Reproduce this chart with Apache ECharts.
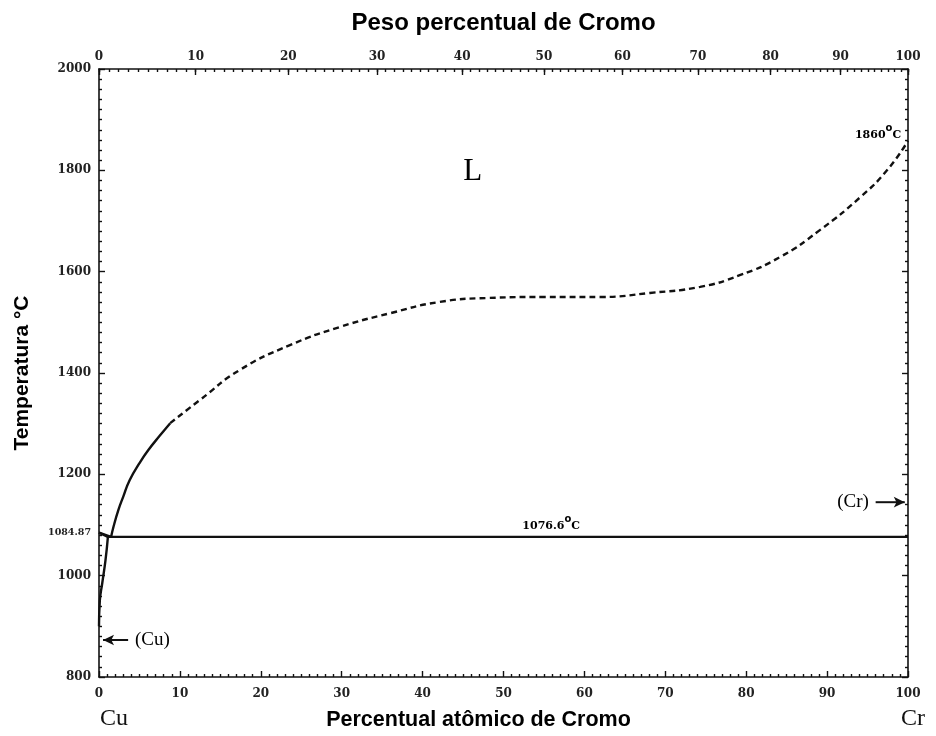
<!DOCTYPE html>
<html lang="pt">
<head>
    <meta charset="UTF-8">
    <title>Diagrama de fases Cu-Cr</title>
    <script src="https://cdn.jsdelivr.net/npm/echarts@6/dist/echarts.min.js"></script>
    <style>
        html, body {margin: 0; padding: 0; background: #fff;}
        #main {width: 936px; height: 736px;}
    </style>
</head>
<body>
<div id="main"></div>
<script type="text/javascript">
    // liquidus, parte cheia (at% Cr, °C)
    var liqSolid = [
        [1.5, 1076.6], [1.8, 1097], [2.4, 1130], [3.0, 1156], [3.8, 1189],
        [5.0, 1222], [6.1, 1248], [7.5, 1276], [8.8, 1301]
    ];
    // liquidus, parte tracejada
    var liqDashed = [
        [8.8, 1301], [12.5, 1347], [17.4, 1406], [23.6, 1455], [29.8, 1491],
        [36, 1518], [42, 1540], [48, 1548], [55, 1550], [61.9, 1550],
        [68.1, 1558], [74.3, 1570], [79.2, 1593], [84.2, 1629], [89.1, 1682],
        [94.1, 1747], [97.4, 1800], [100, 1858]
    ];
    var eutectic = [[1.1, 1076.6], [100, 1076.6]];
    var cuLiquidus = [[0, 1084.87], [1.5, 1076.6]];
    var cuSolidus = [[0, 1084.87], [1.1, 1076.6]];
    var cuSolvus = [[1.1, 1076.6], [0.8, 1030], [0.4, 985], [0.1, 950], [0, 900]];

    var topTicksWt = [0, 10, 20, 30, 40, 50, 60, 70, 80, 90, 100];
    var leftLabels = [800, 1000, 1084.87, 1200, 1400, 1600, 1800, 2000];

    var annotations = [
        {text: 'L', pos: [46.2, 1797], style: 'big'},
        {text: '1860{sup|o}C', pos: [96.3, 1876], style: 'small'},
        {text: '1076.6{sup|o}C', pos: [55.9, 1104], style: 'small'},
        {text: '(Cr)', pos: [93.2, 1145], style: 'mid'},
        {text: '(Cu)', pos: [6.6, 873], style: 'mid'}
    ];
    // seta: [inicio, fim], rotacao da ponta
    var arrows = [
        {data: [[96.0, 1145], [99.6, 1145]], rotate: -90},
        {data: [[3.6, 873], [0.5, 873]], rotate: 90}
    ];

    // peso % -> atomico % (Cr 52.00, Cu 63.55)
    function wtToAt(w) {
        var a = w / 52.0, b = (100 - w) / 63.55;
        return a / (a + b) * 100;
    }
    function atToWt(x) {
        var a = x * 52.0, b = (100 - x) * 63.55;
        return a / (a + b) * 100;
    }
    var topMajor = topTicksWt.map(wtToAt);
    var topMinor = [];
    for (var w = 0; w <= 100; w++) topMinor.push(wtToAt(w));

    var tickFont = {fontFamily: 'DejaVu Serif', fontWeight: 'bold', fontSize: 12, color: '#222'};
    var lineStyleAxis = {color: '#111', width: 1.6};
    var tickLine = {color: '#111', width: 1.4};

    var myChart = echarts.init(document.getElementById('main'));

    function lineSeries(data, dashed) {
        return {
            type: 'line',
            data: data,
            smooth: true,
            symbol: 'none',
            silent: true,
            lineStyle: {color: '#111', width: 2.4, type: dashed ? [6, 4] : 'solid'},
            z: 3
        };
    }

    var series = [
        lineSeries(liqSolid, false),
        lineSeries(liqDashed, true),
        lineSeries(eutectic, false),
        lineSeries(cuLiquidus, false),
        lineSeries(cuSolidus, false),
        lineSeries(cuSolvus, false)
    ];
    arrows.forEach(function (a) {
        series.push({
            type: 'line',
            data: a.data,
            showSymbol: true,
            symbol: function (v, p) { return p.dataIndex === 1 ? 'arrow' : 'none'; },
            symbolSize: [8, 11],
            symbolRotate: a.rotate,
            silent: true,
            lineStyle: {color: '#111', width: 2},
            itemStyle: {color: '#111'}
        });
    });
    series.push({
        type: 'scatter',
        symbolSize: 0,
        silent: true,
        itemStyle: {color: '#000', opacity: 1},
        data: annotations.map(function (a) {
            return {
                value: a.pos,
                label: {
                    show: true,
                    position: 'inside',
                    color: '#000',
                    opacity: 1,
                    textBorderWidth: 0,
                    formatter: '{' + a.style + '|' + a.text.replace('{sup|o}', '}{sup|o}{' + a.style + '|') + '}',
                    rich: {
                        big: {fontFamily: 'Liberation Serif', fontSize: 31, color: '#000', textBorderWidth: 0},
                        mid: {fontFamily: 'Liberation Serif', fontSize: 19, color: '#000', textBorderWidth: 0},
                        small: {fontFamily: 'DejaVu Serif', fontWeight: 'bold', fontSize: 11, color: '#000', textBorderWidth: 0, verticalAlign: 'bottom'},
                        sup: {fontFamily: 'DejaVu Sans', fontWeight: 'bold', fontSize: 10, color: '#000', textBorderWidth: 0, verticalAlign: 'top', padding: [0, 0, 7, 0]}
                    }
                }
            };
        })
    });

    var option = {
        animation: false,
        backgroundColor: '#fff',
        grid: {left: 99, right: 28, top: 69, bottom: 59},
        xAxis: [
            {
                type: 'value', position: 'bottom', min: 0, max: 100, interval: 10,
                name: 'Percentual atômico de Cromo', nameLocation: 'middle', nameGap: 32,
                nameTextStyle: {fontFamily: 'Liberation Sans', fontWeight: 'bold', fontSize: 21.5, color: '#000', padding: [0, 50, 0, 0]},
                splitLine: {show: false},
                axisLine: {show: true, onZero: false, lineStyle: lineStyleAxis},
                axisTick: {show: true, inside: true, length: 6, lineStyle: tickLine},
                minorTick: {show: true, splitNumber: 10, length: 3, lineStyle: tickLine},
                axisLabel: Object.assign({margin: 11}, tickFont)
            },
            {
                type: 'value', position: 'top', min: 0, max: 100,
                name: 'Peso percentual de Cromo', nameLocation: 'middle', nameGap: 34,
                nameTextStyle: {fontFamily: 'Liberation Sans', fontWeight: 'bold', fontSize: 24, color: '#000'},
                splitLine: {show: false},
                axisLine: {show: true, onZero: false, lineStyle: lineStyleAxis},
                axisTick: {show: true, inside: true, length: 6, customValues: topMajor, lineStyle: tickLine},
                axisLabel: Object.assign({
                    margin: 6,
                    customValues: topMajor,
                    formatter: function (v) { return String(Math.round(atToWt(v))); }
                }, tickFont)
            },
            {
                type: 'value', position: 'top', min: 0, max: 100,
                splitLine: {show: false},
                axisLine: {show: false},
                axisTick: {show: true, inside: true, length: 3, customValues: topMinor, lineStyle: tickLine},
                axisLabel: {show: false}
            }
        ],
        yAxis: [
            {
                type: 'value', position: 'left', min: 800, max: 2000, interval: 200,
                name: 'Temperatura °C', nameLocation: 'middle', nameGap: 66,
                nameTextStyle: {fontFamily: 'Liberation Sans', fontWeight: 'bold', fontSize: 21, color: '#000'},
                splitLine: {show: false},
                axisLine: {show: true, onZero: false, lineStyle: lineStyleAxis},
                axisTick: {show: true, inside: true, length: 6, lineStyle: tickLine},
                minorTick: {show: true, splitNumber: 10, length: 3, lineStyle: tickLine},
                axisLabel: Object.assign({
                    margin: 8,
                    customValues: leftLabels,
                    formatter: function (v) {
                        return v === 1084.87 ? '{s|1084.87}' : '{n|' + v + '}';
                    },
                    rich: {
                        s: {fontFamily: 'DejaVu Serif', fontWeight: 'bold', fontSize: 9.5, color: '#222'},
                        n: tickFont
                    }
                }, tickFont)
            },
            {
                type: 'value', position: 'right', min: 800, max: 2000, interval: 200,
                splitLine: {show: false},
                axisLine: {show: true, onZero: false, lineStyle: lineStyleAxis},
                axisTick: {show: true, inside: true, length: 6, lineStyle: tickLine},
                minorTick: {show: true, splitNumber: 10, length: 3, lineStyle: tickLine},
                axisLabel: {show: false}
            }
        ],
        graphic: [
            {type: 'text', left: 100, top: 707, style: {text: 'Cu', fontFamily: 'Liberation Serif', fontSize: 24, fill: '#111'}},
            {type: 'text', left: 901, top: 707, style: {text: 'Cr', fontFamily: 'Liberation Serif', fontSize: 24, fill: '#111'}}
        ],
        series: series
    };
    myChart.setOption(option);
</script>
</body>
</html>
